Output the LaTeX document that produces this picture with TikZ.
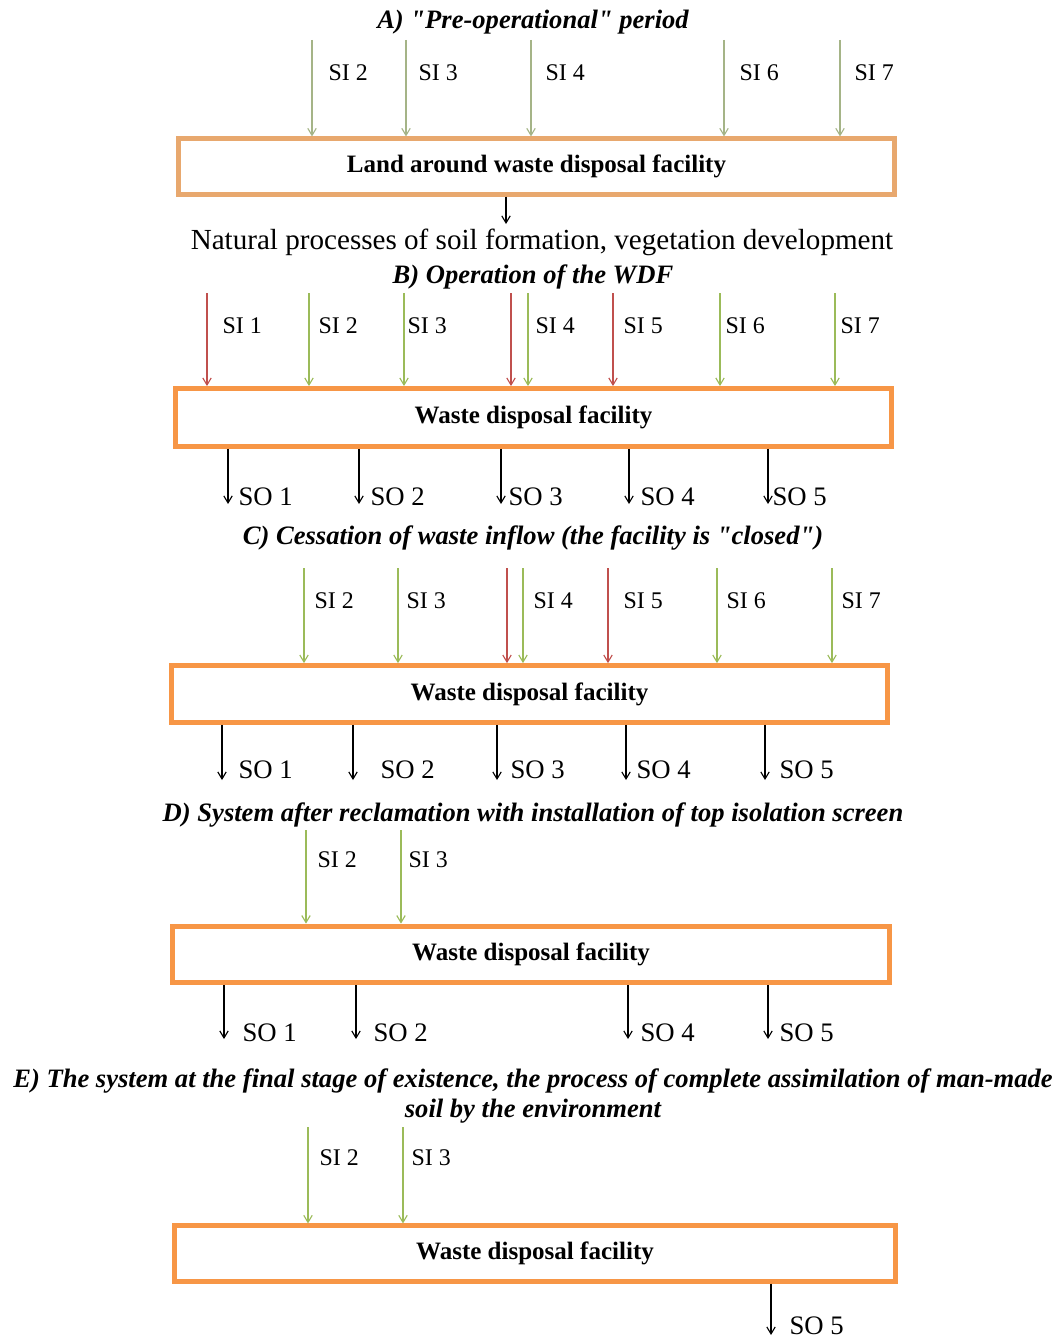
\documentclass[tikz,border=0pt]{standalone}
\usepackage{fontspec}
\setmainfont{Liberation Serif}
\usetikzlibrary{arrows.meta}

\begin{document}
\begin{tikzpicture}[x=0.025cm, y=-0.025cm, >={Straight Barb[length=5pt,width=6pt]}, line width=0.8pt]
  \definecolor{inflowgreen}{RGB}{155,187,89}
  \definecolor{inflowred}{RGB}{192,80,77}
  \definecolor{wdforange}{RGB}{247,150,70}
  \definecolor{landgreen}{RGB}{165,180,135}
  \definecolor{landorange}{RGB}{232,168,110}
  \tikzset{
    stagetitle/.style={inner sep=0pt, font=\fontsize{18.9}{21.5}\selectfont\bfseries\itshape},
    wdfbox/.style={draw=wdforange, line width=3.5pt, fill=white, minimum width=17.9cm, minimum height=1.42cm, font=\fontsize{17.8}{20}\selectfont\bfseries},
    silabel/.style={anchor=west, inner sep=0pt, font=\fontsize{17}{20}\selectfont},
    solabel/.style={anchor=west, inner sep=0pt, font=\fontsize{19}{22}\selectfont},
    sigreen/.style={draw=inflowgreen, ->},
    sired/.style={draw=inflowred, ->},
    soarrow/.style={draw=black, ->}
  }
  \useasboundingbox (0,0) rectangle (1058,1340);

  % A) pre-operational period
  \node[stagetitle] (titleA) at (533,22) {A) \textquotedbl Pre-operational\textquotedbl{} period};
  \node[wdfbox, draw=landorange, minimum height=1.38cm] (landA) at (536.5,166.5) {Land around waste disposal facility};
  \foreach \x/\lx/\lab in {312/328/2, 406/418/3, 531/545/4, 724/739/6, 840/854/7} {
    \coordinate (siA\lab) at (\x,40);
    \draw[->, draw=landgreen] (siA\lab) -- (siA\lab |- landA.north);
    \node[silabel] (siA\lab label) at (\lx,73) {SI \lab};
  }
  \coordinate (natA) at (506,224);
  \draw[soarrow] (natA |- landA.south) -- (natA);
  \node[inner sep=0pt, font=\fontsize{20.7}{24}\selectfont] (natural) at (542,242) {Natural processes of soil formation, vegetation development};

  % B) operation of the WDF
  \node[stagetitle] (titleB) at (533,277) {B) Operation of the WDF};
  \node[wdfbox, minimum height=1.45cm] (wdfB) at (533.5,417.5) {Waste disposal facility};
  \foreach \x/\c in {207/sired, 309/sigreen, 404/sigreen, 511/sired, 528/sigreen, 613/sired, 720/sigreen, 835/sigreen} {
    \coordinate (siB\x) at (\x,293);
    \draw[\c] (siB\x) -- (siB\x |- wdfB.north);
  }
  \foreach \lx/\lab in {222/1, 318/2, 407/3, 535/4, 623/5, 725/6, 840/7}
    \node[silabel] (siB\lab label) at (\lx,326) {SI \lab};
  \foreach \x/\lx/\lab in {228/238/1, 359/370/2, 501/508/3, 629/640/4, 768/772/5} {
    \coordinate (soB\lab) at (\x,504);
    \draw[soarrow] (soB\lab |- wdfB.south) -- (soB\lab);
    \node[solabel] (soB\lab label) at (\lx,497) {SO \lab};
  }

  % C) cessation of waste inflow
  \node[stagetitle] (titleC) at (533,538) {C) Cessation of waste inflow (the facility is \textquotedbl closed\textquotedbl)};
  \node[wdfbox] (wdfC) at (529.5,694) {Waste disposal facility};
  \foreach \x/\c in {304/sigreen, 398/sigreen, 507/sired, 523/sigreen, 608/sired, 717/sigreen, 832/sigreen} {
    \coordinate (siC\x) at (\x,568);
    \draw[\c] (siC\x) -- (siC\x |- wdfC.north);
  }
  \foreach \lx/\lab in {314/2, 406/3, 533/4, 623/5, 726/6, 841/7}
    \node[silabel] (siC\lab label) at (\lx,601) {SI \lab};
  \foreach \x/\lx/\lab in {222/238/1, 353/380/2, 497/510/3, 626/636/4, 765/779/5} {
    \coordinate (soC\lab) at (\x,780);
    \draw[soarrow] (soC\lab |- wdfC.south) -- (soC\lab);
    \node[solabel] (soC\lab label) at (\lx,770) {SO \lab};
  }

  % D) after reclamation
  \node[stagetitle] (titleD) at (533,815) {D) System after reclamation with installation of top isolation screen};
  \node[wdfbox] (wdfD) at (531,954.5) {Waste disposal facility};
  \foreach \x/\lx/\lab in {306/317/2, 401/408/3} {
    \coordinate (siD\lab) at (\x,830);
    \draw[sigreen] (siD\lab) -- (siD\lab |- wdfD.north);
    \node[silabel] (siD\lab label) at (\lx,860) {SI \lab};
  }
  \foreach \x/\lx/\lab in {224/242/1, 356/373/2, 628/640/4, 768/779/5} {
    \coordinate (soD\lab) at (\x,1039);
    \draw[soarrow] (soD\lab |- wdfD.south) -- (soD\lab);
    \node[solabel] (soD\lab label) at (\lx,1033) {SO \lab};
  }

  % E) final stage
  \node[stagetitle, align=center] (titleE) at (533,1096) {E) The system at the final stage of existence, the process of complete assimilation of man-made\\soil by the environment};
  \node[wdfbox, minimum width=18cm, minimum height=1.38cm] (wdfE) at (535,1253.5) {Waste disposal facility};
  \foreach \x/\lx/\lab in {308/319/2, 403/411/3} {
    \coordinate (siE\lab) at (\x,1127);
    \draw[sigreen] (siE\lab) -- (siE\lab |- wdfE.north);
    \node[silabel] (siE\lab label) at (\lx,1158) {SI \lab};
  }
  \coordinate (soE5) at (771,1335);
  \draw[soarrow] (soE5 |- wdfE.south) -- (soE5);
  \node[solabel] (soE5label) at (789,1326) {SO 5};
\end{tikzpicture}
\end{document}
